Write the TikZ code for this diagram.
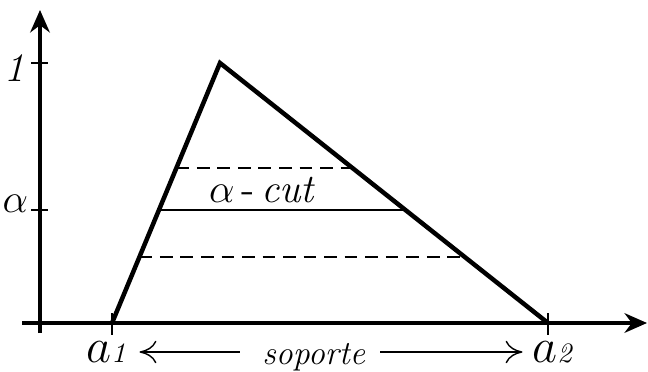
\documentclass[tikz,border=0pt]{standalone}
\usepackage{amsmath}
\usepackage{tikz}
\usetikzlibrary{positioning, calc, arrows.meta}

\begin{document}
\begin{tikzpicture}[
        x=0.0125cm, y=-0.0125cm,
        every node/.style={font=\large},
        axis/.style={line width=1.1pt, -{Stealth[length=8pt, width=7pt]}},
        tick/.style={line width=0.9pt},
        fuzzy/.style={line width=1.6pt, line join=miter},
        cutline/.style={line width=0.8pt},
        level/.style={line width=0.9pt, dash pattern=on 4.5pt off 2.8pt},
        span/.style={line width=0.5pt, {To[length=6pt, width=8pt]}-},
    ]
        \useasboundingbox (0,0) rectangle (648,371);

        % Points
        \coordinate (origin) at (40,323);
        \coordinate (a1) at (112,323);
        \coordinate (top) at (220,63);
        \coordinate (a2) at (548,323);
        \coordinate (xend) at (647,323);
        \coordinate (yend) at (40,10);

        % Axes
        \draw[axis] (22,323) -- (xend);
        \draw[axis] (40,333) -- (yend);
        \draw[tick] (31,63) -- (48,63);
        \draw[tick] (31,210) -- (48,210);
        \draw[tick] (112,313) -- (112,335);
        \draw[tick] (548,313) -- (548,335);
        \node[left, font=\Large, inner sep=1pt] (one) at (33,68) {$\mathit{1}$};
        \node[left, font=\Large] (alpha) at (38,204) {$\alpha$};

        % Triangle
        \draw[fuzzy] (a1) -- (top) -- (a2);

        % Cuts
        \coordinate (cutL) at ($(a1)!0.4346!(top)$);
        \coordinate (cutR) at ($(a2)!0.4346!(top)$);
        \coordinate (upL) at ($(a1)!0.596!(top)$);
        \coordinate (upR) at ($(a2)!0.596!(top)$);
        \coordinate (loL) at ($(a1)!0.254!(top)$);
        \coordinate (loR) at ($(a2)!0.254!(top)$);
        \draw[cutline] (cutL) -- node[above, pos=0.42, font=\Large, inner sep=2pt] (cutlabel) {$\alpha$\,-\,\textit{cut}} (cutR);
        \draw[level] (upL) -- (upR);
        \draw[level] (loL) -- (loR);

        % Support
        \node (a1label) at (108,352) {\LARGE$a$\normalsize$\mathit{1}$};
        \node (a2label) at (554,352) {\LARGE$a$\normalsize$\mathit{2}$};
        \node (support) at (315,357) {$\mathit{soporte}$};
        \draw[span] (a1label.east) coordinate (sL) -- (sL -| 240,0);
        \draw[span] (a2label.west) coordinate (sR) -- (sR -| 380,0);

    \end{tikzpicture}
\end{document}
